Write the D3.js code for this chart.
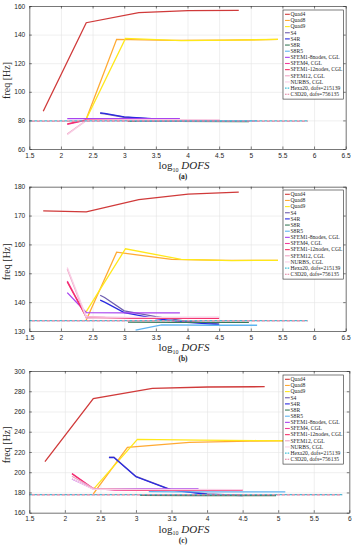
<!DOCTYPE html>
<html>
<head>
<meta charset="utf-8">
<script src="https://cdn.jsdelivr.net/npm/d3@7"></script>
<style>
body { margin: 0; background: #fff; }
text { fill: #262626; }
</style>
</head>
<body>
<svg id="chart" width="356" height="550"></svg>
<script>
// method names, in legend order
methods = ["Quad4", "Quad8", "Quad9", "S4", "S4R", "S8R", "S8R5",
  "SFEM1-8nodes, CGL", "SFEM4, CGL", "SFEM1-12nodes, CGL", "SFEM12, CGL",
  "NURBS, CGL", "Hexa20, dofs=215139", "C3D20, dofs=756135"]

colors = ["#d03a3a", "#ffaa33", "#ffe81a", "#6f5fb0", "#2a2ae0", "#3a7a5a", "#5fb4f0",
  "#a843f0", "#f03c9b", "#f5306a", "#efa5c5", "#f9d0e6", "#3fc0d8", "#e07a9a"]

dashed = [false, false, false, false, false, false, false,
  false, false, false, false, false, true, true]

// log10 DOFS of each mesh, per method (same meshes in all three modes)
dofs = [
  [1.72, 2.40, 3.23, 4.01, 4.81],        // Quad4
  [2.40, 2.88, 3.75, 4.60, 5.43],        // Quad8
  [2.40, 3.02, 3.90, 4.70, 5.43],        // Quad9
  [2.62, 2.69, 3.00, 3.50, 4.00, 4.50],  // S4
  [2.62, 2.69, 3.00, 3.50, 4.00, 4.50],  // S4R
  [3.06, 3.80, 4.97],                    // S8R
  [3.18, 3.59, 4.40, 5.10],              // S8R5
  [2.10, 2.40, 3.10, 3.88],              // SFEM1-8nodes
  [2.10, 2.40, 2.70, 3.88],              // SFEM4
  [2.10, 2.40, 3.10, 4.50],              // SFEM1-12nodes
  [2.10, 2.40, 3.10, 4.50],              // SFEM12
  [2.10, 2.40, 3.10, 4.50],              // NURBS
  [1.50, 5.90],                          // Hexa20 reference
  [1.50, 5.90]                           // C3D20 reference
]

// frequencies [Hz], mode (a)
freqA = [
  [86.4, 148.3, 155.3, 156.7, 157.0],
  [81.0, 136.7, 135.9, 136.1, 136.6],
  [81.0, 137.3, 135.8, 136.2, 136.6],
  [85.0, 84.6, 82.2, 80.8, 80.2, 79.9],
  [85.3, 84.9, 82.5, 81.0, 80.3, 80.0],
  [79.4, 79.3, 79.2],
  [79.6, 79.6, 79.6, 79.6],
  [81.3, 81.3, 81.3, 81.3],
  [77.3, 80.2, 80.4, 80.5],
  [77.5, 80.3, 80.3, 80.3],
  [70.5, 80.0, 80.5, 80.6],
  [70.0, 80.0, 80.4, 80.5],
  [79.6, 79.6],
  [79.5, 79.5]
]

// mode (b)
freqB = [
  [171.6, 171.3, 175.5, 177.4, 178.1],
  [133.8, 157.3, 154.8, 154.5, 154.5],
  [136.7, 158.5, 154.8, 154.4, 154.5],
  [142.4, 141.6, 137.0, 135.0, 133.3, 132.5],
  [140.7, 140.0, 136.4, 134.3, 133.0, 132.2],
  [133.1, 133.0, 133.0],
  [130.3, 132.1, 132.0, 132.0],
  [143.3, 136.4, 136.3, 136.3],
  [147.3, 135.0, 134.7, 134.5],
  [147.0, 134.8, 134.4, 134.4],
  [151.5, 134.5, 134.6, 134.7],
  [152.0, 135.0, 134.7, 134.7],
  [133.6, 133.6],
  [133.5, 133.5]
]

// mode (c)
freqC = [
  [210.4, 272.7, 282.9, 284.2, 284.5],
  [178.5, 224.6, 229.5, 230.8, 231.3],
  [183.0, 232.5, 231.8, 231.3, 231.0],
  [215.0, 215.0, 195.8, 182.5, 178.5, 177.2],
  [214.5, 214.5, 195.5, 182.3, 178.2, 177.0],
  [177.2, 177.0, 176.8],
  [180.8, 180.6, 180.5, 180.5],
  [193.3, 183.5, 183.5, 183.5],
  [198.8, 184.0, 182.3, 182.2],
  [198.5, 183.5, 182.0, 182.0],
  [196.0, 184.0, 183.0, 182.8],
  [193.5, 183.0, 182.8, 182.8],
  [177.9, 177.9],
  [177.7, 177.7]
]

// tick values
xTicksAB = [1.5, 2, 2.5, 3, 3.5, 4, 4.5, 5, 5.5, 6, 6.5]
xTicksC = [1.5, 2, 2.5, 3, 3.5, 4, 4.5, 5, 5.5, 6]
yTicksA = [60, 80, 100, 120, 140, 160]
yTicksB = [130, 140, 150, 160, 170, 180]
yTicksC = [160, 180, 200, 220, 240, 260, 280, 300]

panels = [
  {freq: freqA, xTicks: xTicksAB, yTicks: yTicksA, tag: "(a)",
   left: 29.3, right: 345.7, top: 6, bottom: 149, legTop: 10},
  {freq: freqB, xTicks: xTicksAB, yTicks: yTicksB, tag: "(b)",
   left: 29.3, right: 345.7, top: 186.7, bottom: 331, legTop: 190},
  {freq: freqC, xTicks: xTicksC, yTicks: yTicksC, tag: "(c)",
   left: 29.3, right: 349.3, top: 371, bottom: 512.7, legTop: 375}
]

const svg = d3.select("#chart")
const AX = "#262626"

panels.forEach(function (p) {
  const x = d3.scaleLinear()
    .domain(d3.extent(p.xTicks))
    .range([p.left, p.right])
  const y = d3.scaleLinear()
    .domain(d3.extent(p.yTicks))
    .range([p.bottom, p.top])
  const w = p.right - p.left
  const h = p.bottom - p.top
  const g = svg.append("g")

  // grid
  g.append("g")
    .attr("transform", `translate(0,${p.bottom})`)
    .call(d3.axisBottom(x).tickValues(p.xTicks).tickSize(-h).tickFormat(""))
    .call(s => {
      s.select(".domain").remove()
      s.selectAll("line").attr("stroke", "#e4e4e4").attr("stroke-width", 0.6)
    })
  g.append("g")
    .attr("transform", `translate(${p.left},0)`)
    .call(d3.axisLeft(y).tickValues(p.yTicks).tickSize(-w).tickFormat(""))
    .call(s => {
      s.select(".domain").remove()
      s.selectAll("line").attr("stroke", "#e4e4e4").attr("stroke-width", 0.6)
    })

  // data lines; the two reference lines alternate their dashes
  const line = d3.line().x(d => x(d[0])).y(d => y(d[1]))
  methods.forEach(function (m, i) {
    g.append("path")
      .datum(d3.zip(dofs[i], p.freq[i]))
      .attr("d", line)
      .attr("fill", "none")
      .attr("stroke", colors[i])
      .attr("stroke-width", 1.3)
      .attr("stroke-dasharray", dashed[i] ? "3,2" : null)
      .attr("stroke-dashoffset", i === 13 ? 2.5 : null)
  })

  // axes with inward ticks, like the original box
  const fmt = d => String(d)
  const styleAxis = s => {
    s.select(".domain").attr("stroke", AX).attr("stroke-width", 0.6)
    s.selectAll(".tick line").attr("stroke", AX).attr("stroke-width", 0.6)
    s.selectAll("text").attr("font-family", "Liberation Sans, Arial, sans-serif")
      .attr("font-size", 6.6).attr("fill", AX)
  }
  g.append("g")
    .attr("transform", `translate(0,${p.bottom})`)
    .call(d3.axisBottom(x).tickValues(p.xTicks).tickSizeInner(-2.5).tickSizeOuter(0)
      .tickPadding(4).tickFormat(fmt))
    .call(styleAxis)
  g.append("g")
    .attr("transform", `translate(0,${p.top})`)
    .call(d3.axisTop(x).tickValues(p.xTicks).tickSizeInner(-2.5).tickSizeOuter(0).tickFormat(""))
    .call(styleAxis)
  g.append("g")
    .attr("transform", `translate(${p.left},0)`)
    .call(d3.axisLeft(y).tickValues(p.yTicks).tickSizeInner(-2.5).tickSizeOuter(0)
      .tickPadding(4).tickFormat(fmt))
    .call(styleAxis)
  g.append("g")
    .attr("transform", `translate(${p.right},0)`)
    .call(d3.axisRight(y).tickValues(p.yTicks).tickSizeInner(-2.5).tickSizeOuter(0).tickFormat(""))
    .call(styleAxis)

  // y label
  g.append("text")
    .attr("transform", `translate(10,${p.top + h / 2 + 3}) rotate(-90)`)
    .attr("text-anchor", "middle")
    .attr("font-family", "Liberation Serif, Times New Roman, serif")
    .attr("font-size", 10)
    .text("freq [Hz]")

  // x label: log10 DOFS
  const xl = g.append("text")
    .attr("x", 184)
    .attr("y", p.bottom + 20)
    .attr("text-anchor", "middle")
    .attr("font-family", "Liberation Serif, Times New Roman, serif")
    .attr("font-size", 11)
  xl.append("tspan").text("log")
  xl.append("tspan").attr("font-size", 6).attr("dy", 2.5).text("10")
  xl.append("tspan").attr("dy", -2.5).attr("font-style", "italic").text(" DOFS")

  // panel tag
  g.append("text")
    .attr("x", 183)
    .attr("y", p.bottom + 30)
    .attr("text-anchor", "middle")
    .attr("font-family", "Liberation Serif, Times New Roman, serif")
    .attr("font-weight", "bold")
    .attr("font-size", 7.5)
    .text(p.tag)

  // legend
  const lx = 283, lw = 60.5, rowH = 6.15
  const leg = g.append("g").attr("transform", `translate(${lx},${p.legTop})`)
  leg.append("rect")
    .attr("width", lw)
    .attr("height", rowH * methods.length + 3)
    .attr("fill", "#fff")
    .attr("stroke", AX)
    .attr("stroke-width", 0.6)
  methods.forEach(function (m, i) {
    const yy = 4.3 + i * rowH
    leg.append("line")
      .attr("x1", 2).attr("x2", 6.8)
      .attr("y1", yy).attr("y2", yy)
      .attr("stroke", colors[i])
      .attr("stroke-width", 1.1)
      .attr("stroke-dasharray", dashed[i] ? "1.6,1" : null)
    leg.append("text")
      .attr("x", 7.5)
      .attr("y", yy + 1.8)
      .attr("font-family", "Liberation Serif, Times New Roman, serif")
      .attr("font-size", 5.6)
      .text(m)
  })
})
</script>
</body>
</html>
